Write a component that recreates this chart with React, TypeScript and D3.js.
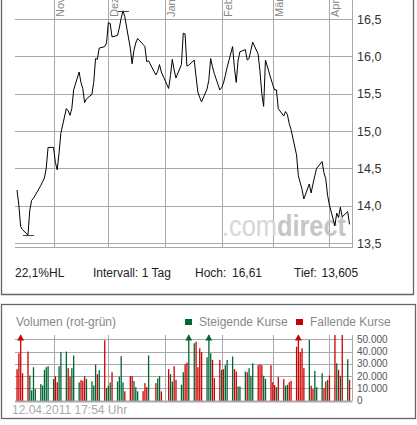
import React, { useEffect, useRef } from 'react';
import * as d3 from 'd3';

// trading days shown in the chart
const tradeDates = [
  '2010-10-12', '2010-10-13', '2010-10-14', '2010-10-15', '2010-10-18', '2010-10-19', '2010-10-20',
  '2010-10-21', '2010-10-22', '2010-10-25', '2010-10-26', '2010-10-27', '2010-10-28', '2010-10-29',
  '2010-11-01', '2010-11-02', '2010-11-03', '2010-11-04', '2010-11-05', '2010-11-08', '2010-11-09',
  '2010-11-10', '2010-11-11', '2010-11-12', '2010-11-15', '2010-11-16', '2010-11-17', '2010-11-18',
  '2010-11-19', '2010-11-22', '2010-11-23', '2010-11-24', '2010-11-25', '2010-11-26', '2010-11-29',
  '2010-11-30',
  '2010-12-01', '2010-12-02', '2010-12-03', '2010-12-06', '2010-12-07', '2010-12-08', '2010-12-09',
  '2010-12-10', '2010-12-13', '2010-12-14', '2010-12-15', '2010-12-16', '2010-12-17', '2010-12-20',
  '2010-12-21', '2010-12-22', '2010-12-23', '2010-12-27', '2010-12-28', '2010-12-29', '2010-12-30',
  '2011-01-03', '2011-01-04', '2011-01-05', '2011-01-06', '2011-01-07', '2011-01-10', '2011-01-11',
  '2011-01-12', '2011-01-13', '2011-01-14', '2011-01-17', '2011-01-18', '2011-01-19', '2011-01-20',
  '2011-01-21', '2011-01-24', '2011-01-25', '2011-01-26', '2011-01-27', '2011-01-28', '2011-01-31',
  '2011-02-01', '2011-02-02', '2011-02-03', '2011-02-04', '2011-02-07', '2011-02-08', '2011-02-09',
  '2011-02-10', '2011-02-11', '2011-02-14', '2011-02-15', '2011-02-16', '2011-02-17', '2011-02-18',
  '2011-02-21', '2011-02-22', '2011-02-23', '2011-02-24', '2011-02-25', '2011-02-28',
  '2011-03-01', '2011-03-02', '2011-03-03', '2011-03-04', '2011-03-07', '2011-03-08', '2011-03-09',
  '2011-03-10', '2011-03-11', '2011-03-14', '2011-03-15', '2011-03-16', '2011-03-17', '2011-03-18',
  '2011-03-21', '2011-03-22', '2011-03-23', '2011-03-24', '2011-03-25', '2011-03-28', '2011-03-29',
  '2011-03-30', '2011-03-31',
  '2011-04-01', '2011-04-04', '2011-04-05', '2011-04-06', '2011-04-07', '2011-04-08', '2011-04-11',
  '2011-04-12',
];

// closing prices
const closes = [
  14.21, 14.01, 13.72, 13.68, 13.605, 13.94, 14.07, 14.10, 14.14, 14.27, 14.32, 14.37, 14.50, 14.78,
  14.78, 14.58, 14.48, 14.70, 14.97, 15.30, 15.27, 15.21, 15.30, 15.55, 15.79, 15.65, 15.57, 15.38,
  15.43, 15.49, 15.65, 15.97, 15.96, 16.11, 16.13, 16.18,
  16.45, 16.44, 16.26, 16.28, 16.38, 16.51, 16.61, 16.53, 16.11, 15.90, 16.08, 16.18, 16.24, 16.16,
  16.13, 15.93, 15.94, 15.75, 15.80, 15.89, 15.79,
  15.57, 15.74, 15.96, 15.82, 15.71, 15.89, 16.31, 16.30, 15.87, 15.88, 15.95, 15.73, 15.52, 15.45,
  15.39, 15.56, 15.68, 15.97, 15.86, 15.77, 15.55,
  15.58, 15.64, 15.74, 15.85, 16.13, 15.85, 15.65, 15.94, 16.06, 16.09, 15.95, 15.97, 16.08, 16.19,
  16.03, 15.80, 15.50, 15.33, 15.95, 15.70,
  15.62, 15.55, 15.55, 15.30, 15.20, 15.26, 15.22, 15.10, 15.02, 14.68, 14.40, 14.31, 14.22, 14.09,
  14.29, 14.17, 14.29, 14.40, 14.50, 14.59, 14.44, 14.36, 14.14,
  14.01, 13.73, 13.90, 13.84, 13.98, 13.85, 13.92, 13.75,
];

// volume in thousands of shares
const volumesK = [
  25.7, 38.6, 70, 22.4, 40, 20.5, 8.4, 27.3, 9.5, 13.5, 12.4, 25.1, 27.3, 28.1,
  17.6, 20, 15.1, 28.1, 39.5, 40, 26.5, 19.7, 26.5, 36.8, 14.9, 16.8, 16.2, 20,
  17.6, 15.7, 12.4, 29.5, 21.6, 24.9, 49.2, 10.3,
  12.4, 14.9, 23.2, 15.7, 19.7, 36.2, 14.9, 7.6, 20, 20, 16, 11, 7.6, 7.8,
  14.3, 11, 36.8, 14.3, 18.1, 20, 7.6,
  25.7, 21.6, 15.7, 28.1, 17, 13, 23.2, 29.7, 31, 70, 46.8, 48.1, 27.3, 42.7,
  39.5, 35.4, 70, 38.6, 33.2, 18.4, 33.2,
  25.1, 25.7, 28.9, 33.2, 36, 25.7, 23.8, 11.6, 11.6, 23.8, 23.2, 26.5, 20.3, 30.5,
  28.9, 29.7, 28.9, 20.3, 17.6, 28.9,
  15.1, 12.7, 11, 19.2, 17.6, 12.2, 13, 15.1, 16.2, 44, 70, 39.5, 42.7, 26.5,
  49.5, 12.2, 9.5, 24.3, 11, 22.4, 10.3, 15.7, 17,
  20.5, 53.5, 30.5, 25.1, 20.3, 53.5, 33.8, 17,
];

// g = steigend, r = fallend
const volumeDirs = [
  'r', 'r', 'r', 'r', 'r', 'g', 'g', 'g', 'g', 'g', 'g', 'g', 'g', 'g',
  'g', 'r', 'r', 'g', 'g', 'g', 'r', 'r', 'g', 'g', 'g', 'r', 'r', 'r',
  'g', 'g', 'g', 'g', 'r', 'g', 'r', 'g',
  'g', 'g', 'r', 'g', 'g', 'g', 'g', 'r', 'r', 'r', 'g', 'g', 'g', 'r',
  'r', 'r', 'g', 'r', 'g', 'g', 'r',
  'r', 'g', 'g', 'r', 'r', 'g', 'g', 'r', 'r', 'g', 'g', 'r', 'r', 'r',
  'r', 'g', 'g', 'g', 'r', 'r', 'r',
  'g', 'r', 'g', 'g', 'g', 'r', 'r', 'g', 'g', 'g', 'r', 'g', 'g', 'g',
  'r', 'r', 'r', 'g', 'g', 'r',
  'r', 'r', 'g', 'r', 'r', 'g', 'g', 'r', 'r', 'r', 'r', 'r', 'r', 'r',
  'g', 'r', 'r', 'g', 'g', 'g', 'r', 'r', 'g',
  'r', 'r', 'g', 'r', 'g', 'r', 'g', 'r',
];

const monthDates = ['2010-11-01', '2010-12-01', '2011-01-01', '2011-02-01', '2011-03-01', '2011-04-01'];
const monthLabels = ['Nov', 'Dez', 'Jan', 'Feb', 'Mär', 'Apr'];
const priceTicks = [13.5, 14.0, 14.5, 15.0, 15.5, 16.0, 16.5];
const volumeTicks = [0, 10000, 20000, 30000, 40000, 50000];
const infoTexts = ['22,1%HL', 'Intervall: 1 Tag', 'Hoch:', '16,61', 'Tief:', '13,605'];
const stampText = '12.04.2011 17:54 Uhr';

const FONT = '"Liberation Sans", Arial, Helvetica, sans-serif';
const GRID = '#a9a9a9';
const RED = '#cc0000';
const GREEN = '#006633';

export default function App() {
  const svgRef = useRef<SVGSVGElement>(null);

  useEffect(() => {
    if (!svgRef.current) return;
    const svg = d3.select(svgRef.current);
    svg.selectAll('*').remove();

    const parse = d3.timeParse('%Y-%m-%d');
    const dates = tradeDates.map(d => parse(d)!);
    const months = monthDates.map(d => parse(d)!);
    const crisp = (v: number) => Math.round(v) + 0.5;

    // plot area (shared x)
    const plotLeft = 15;
    const plotRight = 352.5;
    const x = d3.scaleTime()
      .domain([dates[0], dates[dates.length - 1]])
      .range([17, 349.5]);

    const yPrice = d3.scaleLinear().domain([13.5, 16.5]).range([243, 19]);
    const priceBottom = 247;

    const volTop = 335;
    const yVol = d3.scaleLinear().domain([0, 50000]).range([400.7, 339.3]);

    svg.append('rect').attr('width', 417).attr('height', 425).attr('fill', '#fff');

    // panel frames
    svg.append('path')
      .attr('d', 'M1.5,0 V294.5 H413.5 V0')
      .attr('fill', 'none').attr('stroke', '#666').attr('stroke-width', 1.3);
    svg.append('rect')
      .attr('x', 1.5).attr('y', 304.5).attr('width', 414).attr('height', 114)
      .attr('fill', 'none').attr('stroke', '#666').attr('stroke-width', 1.3);

    // ---------- price panel ----------
    const pg = svg.append('g');

    pg.selectAll('line.hgrid')
      .data(priceTicks)
      .join('line')
      .attr('x1', plotLeft).attr('x2', plotRight)
      .attr('y1', d => crisp(yPrice(d))).attr('y2', d => crisp(yPrice(d)))
      .attr('stroke', GRID);

    pg.append('line')
      .attr('x1', plotLeft).attr('x2', plotRight)
      .attr('y1', priceBottom + 0.5).attr('y2', priceBottom + 0.5)
      .attr('stroke', GRID);

    pg.selectAll('line.vgrid')
      .data(months)
      .join('line')
      .attr('x1', d => crisp(x(d))).attr('x2', d => crisp(x(d)))
      .attr('y1', 0).attr('y2', priceBottom)
      .attr('stroke', GRID);

    pg.append('line')
      .attr('x1', plotRight).attr('x2', plotRight)
      .attr('y1', 0).attr('y2', priceBottom + 1)
      .attr('stroke', GRID);

    // month labels, rotated
    pg.selectAll('text.month')
      .data(months)
      .join('text')
      .attr('transform', d => `translate(${x(d) + 10},17) rotate(-90)`)
      .attr('font-family', FONT)
      .attr('font-size', 11)
      .attr('fill', '#888')
      .text((_, i) => monthLabels[i]);

    // price axis labels (right)
    pg.selectAll('text.ptick')
      .data(priceTicks)
      .join('text')
      .attr('x', 357)
      .attr('y', d => yPrice(d) + 4.5)
      .attr('font-family', FONT)
      .attr('font-size', 12.5)
      .attr('fill', '#333')
      .text(d => d3.format('.1f')(d).replace('.', ','));

    // watermark
    const wm = pg.append('text')
      .attr('x', 222)
      .attr('y', 236)
      .attr('font-family', FONT)
      .attr('font-size', 30)
      .attr('textLength', 124)
      .attr('lengthAdjust', 'spacingAndGlyphs');
    wm.append('tspan').attr('fill', '#d6d6d6').text('.com');
    wm.append('tspan').attr('fill', '#c6c6c6').attr('font-weight', 'bold').text('direct');

    // price line
    const line = d3.line<number>()
      .x((_, i) => x(dates[i]))
      .y(d => yPrice(d));

    pg.append('path')
      .datum(closes)
      .attr('d', line)
      .attr('fill', 'none')
      .attr('stroke', '#000')
      .attr('stroke-width', 1);

    // high / low markers
    const hi = d3.maxIndex(closes);
    const lo = d3.minIndex(closes);
    [hi, lo].forEach(i => {
      const cx = x(dates[i]);
      const cy = yPrice(closes[i]);
      pg.append('line')
        .attr('x1', cx - 5).attr('x2', cx + 6)
        .attr('y1', crisp(cy)).attr('y2', crisp(cy))
        .attr('stroke', '#444');
    });

    // info row
    const infoX = [15, 93, 195, 232, 294, 321.5];
    pg.selectAll('text.info')
      .data(infoTexts)
      .join('text')
      .attr('x', (_, i) => infoX[i])
      .attr('y', 277)
      .attr('font-family', FONT)
      .attr('font-size', 12)
      .attr('fill', '#222')
      .text(d => d);

    // ---------- volume panel ----------
    const vg = svg.append('g');

    vg.append('text')
      .attr('x', 16).attr('y', 326)
      .attr('font-family', FONT).attr('font-size', 12).attr('fill', '#888')
      .text('Volumen (rot-grün)');

    const legend = [
      { x: 185, color: GREEN, label: 'Steigende Kurse' },
      { x: 296, color: RED, label: 'Fallende Kurse' },
    ];
    legend.forEach(l => {
      vg.append('rect').attr('x', l.x).attr('y', 319).attr('width', 7).attr('height', 6).attr('fill', l.color);
      vg.append('text')
        .attr('x', l.x + 14).attr('y', 326)
        .attr('font-family', FONT).attr('font-size', 12).attr('fill', '#888')
        .text(l.label);
    });

    vg.selectAll('line.vhgrid')
      .data(volumeTicks)
      .join('line')
      .attr('x1', plotLeft).attr('x2', plotRight)
      .attr('y1', d => crisp(yVol(d))).attr('y2', d => crisp(yVol(d)))
      .attr('stroke', GRID)
      .attr('stroke-width', d => (d === 0 ? 2 : 1));

    vg.selectAll('line.vvgrid')
      .data(months)
      .join('line')
      .attr('x1', d => crisp(x(d))).attr('x2', d => crisp(x(d)))
      .attr('y1', volTop).attr('y2', yVol(0))
      .attr('stroke', GRID);

    vg.append('line')
      .attr('x1', plotRight).attr('x2', plotRight)
      .attr('y1', volTop).attr('y2', yVol(0))
      .attr('stroke', GRID);

    const deLocale = d3.formatLocale({ decimal: ',', thousands: '.', grouping: [3], currency: ['', ''] });
    const fmtVol = deLocale.format(',');
    vg.selectAll('text.vtick')
      .data(volumeTicks)
      .join('text')
      .attr('x', 357)
      .attr('y', d => yVol(d) + 3.5)
      .attr('font-family', FONT)
      .attr('font-size', 10)
      .attr('fill', '#555')
      .text(d => fmtVol(d));

    const vols = volumesK.map(v => v * 1000);
    vg.selectAll('rect.bar')
      .data(vols)
      .join('rect')
      .attr('x', (_, i) => x(dates[i]) - 0.6)
      .attr('width', 1.3)
      .attr('y', d => Math.max(yVol(d), volTop))
      .attr('height', d => yVol(0) - Math.max(yVol(d), volTop))
      .attr('fill', (_, i) => (volumeDirs[i] === 'g' ? GREEN : RED));

    // arrows for bars beyond the scale
    vols.forEach((v, i) => {
      if (yVol(v) >= volTop) return;
      const cx = x(dates[i]);
      vg.append('path')
        .attr('d', `M${cx - 3.5},340.5 L${cx},334.5 L${cx + 3.5},340.5 Z`)
        .attr('fill', volumeDirs[i] === 'g' ? GREEN : RED);
    });

    vg.append('text')
      .attr('x', 12).attr('y', 414)
      .attr('font-family', FONT).attr('font-size', 12).attr('fill', '#aaa')
      .text(stampText);
  }, []);

  return (
    <div style={{ position: 'absolute', left: 0, top: 0 }}>
      <svg ref={svgRef} width={417} height={425} style={{ display: 'block' }}></svg>
    </div>
  );
}
